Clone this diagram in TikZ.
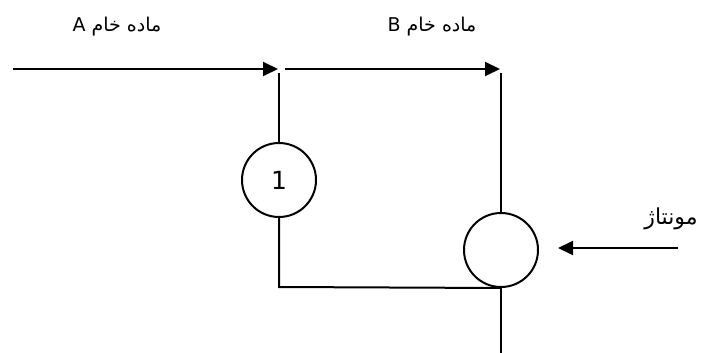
\documentclass[tikz,border=0pt]{standalone}
\usepackage{fontspec}
\setmainfont{DejaVu Sans}
\newfontfamily\arabicfont[Script=Arabic]{DejaVu Sans}
\TeXXeTstate=1
\usetikzlibrary{arrows.meta}

\begin{document}
\begin{tikzpicture}[x=1pt,y=-1pt,line width=2pt,
    flow/.style={-{Triangle[length=15pt,width=14pt]}},
    station/.style={draw,circle,minimum size=74pt,inner sep=0pt},
    lbl/.style={font=\fontsize{19}{21}\selectfont}]

            \useasboundingbox (0,0) rectangle (720,353);

            % stations
            \node[station,font=\fontsize{25}{27}\selectfont] (m1) at (279,180) {1};
            \node[station] (m2) at (501,250) {};

            % junctions
            \coordinate (ain) at (13,69);
            \coordinate (j1) at (278,69);
            \coordinate (j1d) at (279,73);
            \coordinate (bin) at (285,69);
            \coordinate (j2) at (500,69);
            \coordinate (j2d) at (501,73);
            \coordinate (corner) at (279,287);
            \coordinate (out) at (501,353);
            \coordinate (monin) at (678,248);
            \coordinate (montip) at (558,248);

            % materials
            \draw[flow] (ain) -- (j1);
            \draw[flow] (bin) -- (j2);
            \draw (j1d) -- (m1);
            \draw (m1) -- (corner) -- (m2.south);
            \draw (j2d) -- (m2);
            \draw (m2) -- (out);
            \draw[flow] (monin) -- (montip);

            % labels
            \node[lbl] (la) at (117,27) {\arabicfont\beginR ماده خام \beginL A\endL\endR};
            \node[lbl] (lb) at (432,27) {\arabicfont\beginR ماده خام \beginL B\endL\endR};
            \node[font=\fontsize{22}{24}\selectfont] (lm) at (671,219) {\arabicfont\beginR مونتاژ\endR};
             \end{tikzpicture}
\end{document}
